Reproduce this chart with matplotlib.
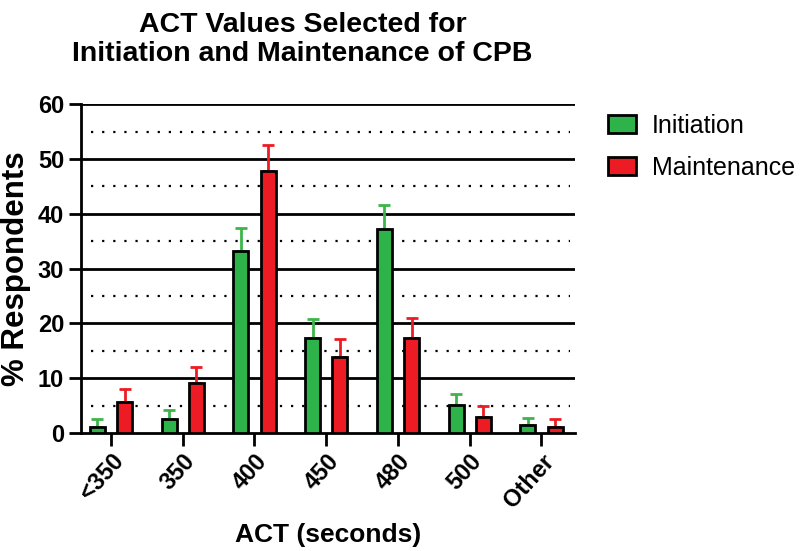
import numpy as np
import matplotlib
matplotlib.use("Agg")
import matplotlib.pyplot as plt

plt.rcParams['font.family'] = ['Liberation Sans', 'DejaVu Sans']

categories = ["<350", "350", "400", "450", "480", "500", "Other"]
initiation = [1.2, 2.5, 33.2, 17.4, 37.3, 5.2, 1.5]
initiation_err = [1.3, 1.7, 4.2, 3.4, 4.3, 2.0, 1.3]
maintenance = [5.7, 9.2, 47.8, 13.8, 17.4, 3.0, 1.15]
maintenance_err = [2.4, 2.8, 4.8, 3.3, 3.6, 1.9, 1.35]

green = "#2db34a"
red = "#ed1c24"

fig = plt.figure(figsize=(8, 5.51), dpi=100)
ax = fig.add_axes([0.101, 0.214, 0.618, 0.597])

x = np.arange(len(categories))
w = 0.21
off = 0.19

# grid lines: solid every 10, dotted in between
for y in range(10, 61, 10):
    ax.axhline(y, color="black", lw=2, zorder=0)
for y in range(5, 60, 10):
    ax.axhline(y, color="black", lw=1.6, ls=(0, (1, 4)), zorder=0, xmin=0.02, xmax=0.99)

ax.bar(x - off, initiation, w, color=green, edgecolor="black", lw=2, zorder=3, label="Initiation")
ax.bar(x + off, maintenance, w, color=red, edgecolor="black", lw=2, zorder=3, label="Maintenance")
ax.errorbar(x - off, initiation, yerr=[np.zeros(len(x)), initiation_err], fmt="none",
            ecolor="#3cb54a", elinewidth=2, capsize=4, capthick=2, zorder=2)
ax.errorbar(x + off, maintenance, yerr=[np.zeros(len(x)), maintenance_err], fmt="none",
            ecolor=red, elinewidth=2, capsize=4, capthick=2, zorder=2)

ax.set_xlim(-0.42, 6.47)
ax.set_ylim(0, 60)
ax.set_yticks(range(0, 61, 10))
ax.set_xticks(x)
ax.set_xticklabels(categories, rotation=48, ha="right", rotation_mode="anchor",
                   fontsize=17, fontweight="bold")
for lab in ax.get_yticklabels():
    lab.set_fontsize(17)
    lab.set_fontweight("bold")

for s in ["top", "right"]:
    ax.spines[s].set_visible(False)
for s in ["left", "bottom"]:
    ax.spines[s].set_linewidth(2)
ax.tick_params(axis="both", width=2, length=9, direction="out", pad=3)

ax.set_ylabel("% Respondents", fontsize=22.5, fontweight="bold", labelpad=5)
ax.set_xlabel("ACT (seconds)", fontsize=19, fontweight="bold", labelpad=8)
fig.text(0.378, 0.978, "ACT Values Selected for\nInitiation and Maintenance of CPB",
         fontsize=20.5, fontweight="bold", ha="center", va="top", linespacing=1.12)

h, l = ax.get_legend_handles_labels()
fig.legend(h, l, loc="upper left", bbox_to_anchor=(608 / 800, 1 - 114 / 551), frameon=False,
           fontsize=18, handlelength=1.12, handleheight=0.72, handletextpad=0.64,
           labelspacing=0.72, borderpad=0, borderaxespad=0)

fig.savefig("out.png", dpi=100)
